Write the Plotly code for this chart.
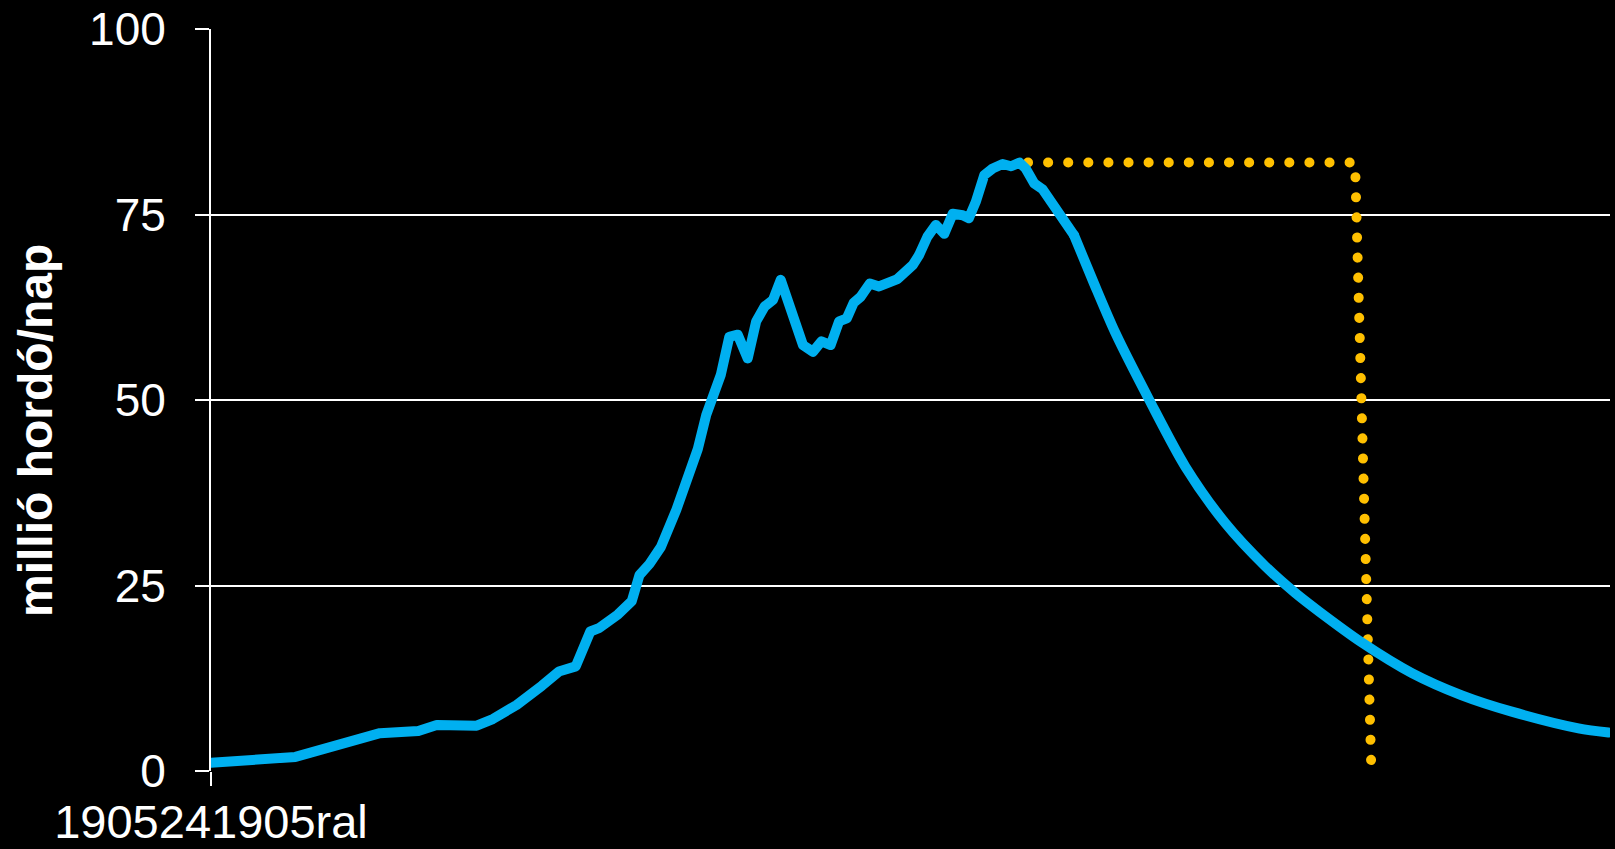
import plotly.graph_objects as go

# Blue series: world oil production (million barrels/day)
years = [1905, 1916, 1927, 1932, 1934.4, 1939.6, 1941.7, 1944.8, 1948.1, 1950.3,
         1952.5, 1954.4, 1955.6, 1958, 1959.8, 1960.8, 1962.1, 1963.6, 1965.6, 1967.3,
         1968.4, 1969.5, 1971.4, 1972.5, 1973.6, 1974.9, 1976.0, 1977.1, 1978.2, 1979.2,
         1980.8, 1982.1, 1983.4, 1984.5, 1985.7, 1986.8, 1987.8, 1988.7, 1989.6, 1990.8,
         1992.0, 1993.5, 1994.4, 1996.4, 1997.2, 1998.3, 1999.4, 2000.5, 2001.6, 2002.9,
         2003.7, 2004.6, 2005.7, 2006.8, 2008.1, 2009.2, 2010.3, 2011.1, 2012.2, 2013.3,
         2015.5, 2017.4, 2020.0, 2022.8, 2027.2, 2031.9, 2037.1, 2042.3, 2046.2, 2049.3,
         2054.9, 2061.4, 2067.9, 2074.4, 2083.1, 2087]
production = [1.1, 1.9, 5.1, 5.4, 6.2, 6.1, 7.0, 8.9, 11.5, 13.4,
              14.1, 18.8, 19.3, 21.1, 22.9, 26.4, 27.9, 30.2, 35.2, 39.7,
              43.4, 48.0, 53.4, 58.5, 58.8, 55.6, 60.6, 62.6, 63.5, 66.2,
              61.2, 57.4, 56.5, 57.9, 57.4, 60.6, 61.0, 63.1, 63.9, 65.7,
              65.3, 65.9, 66.3, 68.2, 69.5, 72.0, 73.6, 72.4, 75.1, 74.9,
              74.5, 76.7, 80.3, 81.2, 81.8, 81.5, 82.0, 81.2, 79.2, 78.4,
              74.9, 72.2, 65.7, 59.0, 50.0, 41.0, 33.4, 27.6, 24.0, 21.5,
              17.3, 13.2, 10.2, 8.0, 5.75, 5.2]
# index where the smooth projected decline begins (year 2017.4)
split = years.index(2017.4)

# Yellow dotted guide: from the peak level across, then down
guide_years = [2011.4, 2054.0, 2056.1]
guide_values = [82.0, 82.0, 0.8]

y_ticks = [0, 25, 50, 75, 100]
x_tick_vals = [1905]
x_tick_text = ["1905241905ral"]
y_title = "millió hordó/nap"

BLUE = "#00B0F0"
fig = go.Figure()
fig.add_trace(go.Scatter(x=guide_years, y=guide_values, mode="lines",
                         line=dict(color="#FFC000", width=10, dash="1px,19px"),
                         hoverinfo="skip", showlegend=False))
fig.add_trace(go.Scatter(x=years[:split + 1], y=production[:split + 1], mode="lines",
                         line=dict(color=BLUE, width=10), showlegend=False))
fig.add_trace(go.Scatter(x=years[split:], y=production[split:], mode="lines",
                         line=dict(color=BLUE, width=10, shape="spline", smoothing=0.8),
                         showlegend=False))

fig.update_layout(
    width=1615, height=849,
    paper_bgcolor="black", plot_bgcolor="black",
    margin=dict(l=211, r=5, t=29, b=78, autoexpand=False),
    font=dict(family="Liberation Sans, Arial, sans-serif", color="white"),
    xaxis=dict(range=[1905, 2087.2], tickmode="array", tickvals=x_tick_vals,
               ticktext=x_tick_text, showgrid=False, zeroline=False, showline=False,
               ticks="outside", ticklen=14, tickwidth=2, tickcolor="white",
               automargin=False, tickfont=dict(size=47, color="white"),
               ticklabelstandoff=-4),
    yaxis=dict(range=[0, 100], tickmode="array", tickvals=y_ticks,
               showgrid=True, gridcolor="white", gridwidth=2, zeroline=False,
               showline=True, linecolor="white", linewidth=2,
               ticks="outside", ticklen=14, tickwidth=2, tickcolor="white",
               automargin=False, tickfont=dict(size=46, color="white"),
               ticklabelstandoff=20),
    annotations=[dict(text=y_title, textangle=-90, showarrow=False,
                      xref="paper", yref="paper", x=0, y=0.5,
                      xanchor="center", yanchor="middle", xshift=-176, yshift=-31,
                      font=dict(size=48, color="white", weight="bold"))],
)

post = """
document.documentElement.style.margin = '0';
document.documentElement.style.background = 'black';
document.body.style.margin = '0';
document.body.style.padding = '0';
document.body.style.background = 'black';
document.body.style.overflow = 'hidden';
var gd = document.getElementById('{plot_id}');
function styl(){
  var traces = gd.querySelectorAll('.scatterlayer .trace');
  traces.forEach(function(t, i){
    t.querySelectorAll('path.js-line').forEach(function(p){
      p.style.strokeLinecap = 'round';
      p.style.strokeLinejoin = 'round';
      if (i === 0) { p.style.strokeDasharray = '0.1px,20px'; }
    });
  });
}
styl();
gd.on('plotly_afterplot', styl);
"""

fig.write_html("out.html", post_script=post, config={"displayModeBar": False})
